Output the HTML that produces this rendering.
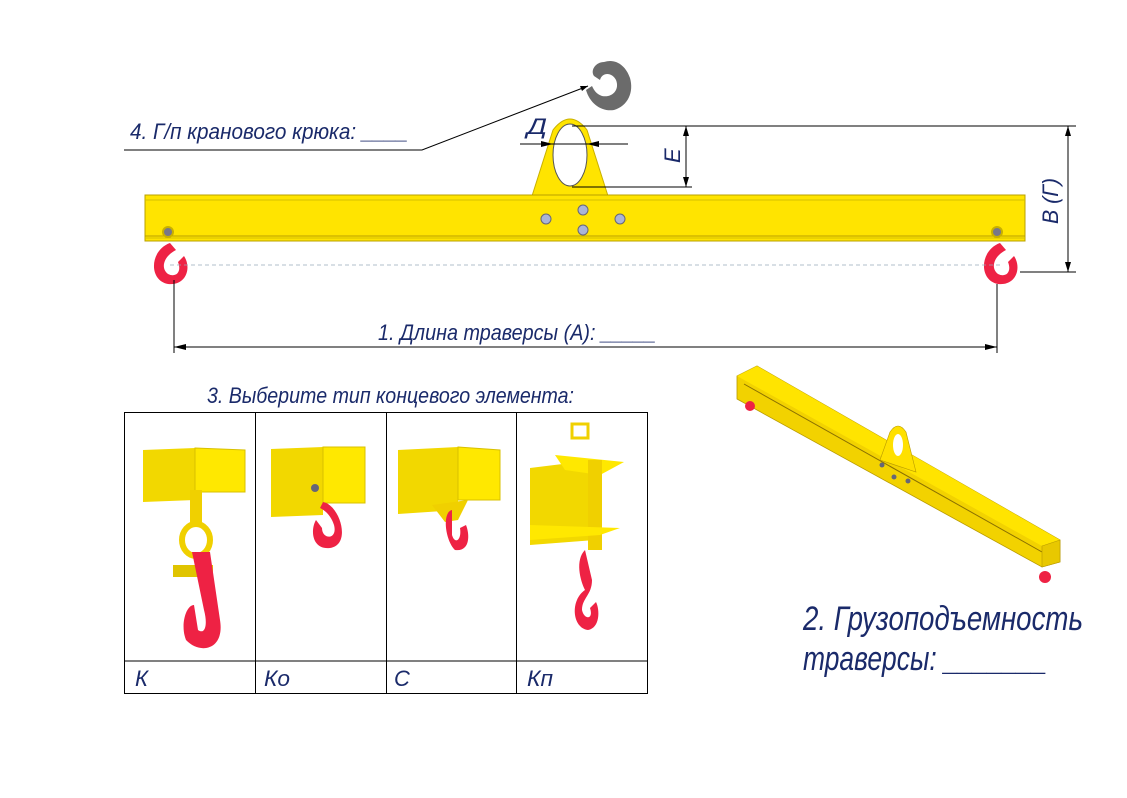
<!DOCTYPE html>
<html><head><meta charset="utf-8"><style>
html,body{margin:0;padding:0;background:#fff;}
svg{display:block}
text{font-family:"Liberation Sans",sans-serif;font-style:italic;fill:#1a2a6a;}
</style></head><body>
<svg width="1127" height="798" viewBox="0 0 1127 798" xmlns="http://www.w3.org/2000/svg">
<!-- crane hook (grey) -->
<path d="M604 62 C596 62 590 70 594 76 L600 80 C602 72 612 72 616 80 C620 90 612 98 602 96 C596 94 594 90 592 86 L586 90 C590 104 602 112 614 110 C628 106 634 92 630 78 C626 66 616 58 604 62 Z" fill="#6b6b6b"/>
<!-- leader line 4 -->
<polyline points="124,150 422,150 588,86" fill="none" stroke="#000" stroke-width="1"/>
<polygon points="588,86 580,86 582,91" fill="#000"/>
<text x="130" y="139" font-size="22" textLength="278" lengthAdjust="spacingAndGlyphs">4. Г/п кранового крюка: ____</text>

<!-- lug -->
<path d="M532 196 L553 130 Q570 108 587 130 L608 196 Z" fill="#ffe400" stroke="#c8b000" stroke-width="1"/>
<ellipse cx="570" cy="155" rx="17" ry="31" fill="#fff" stroke="#555" stroke-width="1"/>
<!-- Д dimension -->
<line x1="520" y1="144" x2="628" y2="144" stroke="#000"/>
<polygon points="553,144 541,141 541,147" fill="#000"/>
<polygon points="587,144 599,141 599,147" fill="#000"/>
<text x="527" y="134" font-size="22" textLength="20" lengthAdjust="spacingAndGlyphs">Д</text>
<!-- E dimension -->
<line x1="572" y1="126" x2="1076" y2="126" stroke="#000"/>
<line x1="572" y1="187" x2="692" y2="187" stroke="#000"/>
<line x1="686" y1="126" x2="686" y2="187" stroke="#000"/>
<polygon points="686,126 683,136 689,136" fill="#000"/>
<polygon points="686,187 683,177 689,177" fill="#000"/>
<text x="0" y="0" font-size="22" transform="translate(680,163) rotate(-90)">Е</text>

<!-- main beam -->
<rect x="145" y="195" width="880" height="46" fill="#ffe400" stroke="#b8a000" stroke-width="1"/>
<line x1="145" y1="200" x2="1025" y2="200" stroke="#d6c000"/>
<line x1="145" y1="236" x2="1025" y2="236" stroke="#b8a000"/>
<line x1="145" y1="238" x2="1025" y2="238" stroke="#d6c000"/>
<circle cx="546" cy="219" r="5" fill="#aab4d6" stroke="#667"/>
<circle cx="583" cy="210" r="5" fill="#aab4d6" stroke="#667"/>
<circle cx="583" cy="230" r="5" fill="#aab4d6" stroke="#667"/>
<circle cx="620" cy="219" r="5" fill="#aab4d6" stroke="#667"/>
<circle cx="168" cy="232" r="5" fill="#778" stroke="#c8b000" stroke-width="2"/>
<circle cx="997" cy="232" r="5" fill="#778" stroke="#c8b000" stroke-width="2"/>
<!-- red hooks -->
<path d="M170 243 C150 250 148 280 168 284 C186 286 192 268 184 256 L178 262 C182 272 176 278 168 274 C160 268 164 256 176 250 Z" fill="#ee2244"/>
<path d="M1000 243 C980 250 978 280 998 284 C1016 286 1022 268 1014 256 L1008 262 C1012 272 1006 278 998 274 C990 268 994 256 1006 250 Z" fill="#ee2244"/>
<line x1="170" y1="265" x2="1000" y2="265" stroke="#9ab" stroke-dasharray="4,3" stroke-width="0.8"/>

<!-- B dimension -->
<line x1="1020" y1="272" x2="1076" y2="272" stroke="#000"/>
<line x1="1068" y1="126" x2="1068" y2="272" stroke="#000"/>
<polygon points="1068,126 1065,136 1071,136" fill="#000"/>
<polygon points="1068,272 1065,262 1071,262" fill="#000"/>
<text x="0" y="0" font-size="22" transform="translate(1058,224) rotate(-90)" textLength="46" lengthAdjust="spacingAndGlyphs">В (Г)</text>

<!-- A dimension -->
<line x1="174" y1="280" x2="174" y2="353" stroke="#000"/>
<line x1="997" y1="284" x2="997" y2="353" stroke="#000"/>
<line x1="174" y1="347" x2="997" y2="347" stroke="#000"/>
<polygon points="174,347 186,344 186,350" fill="#000"/>
<polygon points="997,347 985,344 985,350" fill="#000"/>
<text x="378" y="340" font-size="22" textLength="278" lengthAdjust="spacingAndGlyphs">1. Длина траверсы (А): _____</text>

<!-- section 3 title + table -->
<text x="207" y="403" font-size="22" textLength="367" lengthAdjust="spacingAndGlyphs">3. Выберите тип концевого элемента:</text>
<rect x="124.5" y="412.5" width="523" height="281" fill="none" stroke="#000"/>
<line x1="124" y1="661" x2="648" y2="661" stroke="#000"/>
<line x1="255.5" y1="412" x2="255.5" y2="694" stroke="#000"/>
<line x1="386.5" y1="412" x2="386.5" y2="694" stroke="#000"/>
<line x1="516.5" y1="412" x2="516.5" y2="694" stroke="#000"/>
<text x="135" y="686" font-size="22">К</text>
<text x="264" y="686" font-size="22" textLength="26" lengthAdjust="spacingAndGlyphs">Ко</text>
<text x="394" y="686" font-size="22">С</text>
<text x="527" y="686" font-size="22" textLength="26" lengthAdjust="spacingAndGlyphs">Кп</text>

<!-- K -->
<polygon points="143,450 195,448 195,500 143,502" fill="#f2d800"/>
<polygon points="195,448 245,450 245,492 195,492" fill="#ffe800" stroke="#d8c000"/>
<rect x="190" y="490" width="12" height="35" fill="#f0d000"/>
<ellipse cx="196" cy="540" rx="14" ry="16" fill="none" stroke="#f0d000" stroke-width="6"/>
<rect x="173" y="565" width="40" height="12" fill="#e0c400"/>
<path d="M192 552 L210 552 L220 620 C225 650 200 655 186 640 C180 625 186 605 194 605 L198 630 C205 635 208 625 204 610 Z" fill="#ee2244"/>
<!-- Ko -->
<polygon points="271,449 323,447 323,515 271,517" fill="#f2d800"/>
<polygon points="323,447 365,447 365,503 323,503" fill="#ffe800" stroke="#d8c000"/>
<circle cx="315" cy="488" r="4" fill="#667"/>
<path d="M323 502 C340 505 352 545 330 548 C312 550 310 530 316 520 L322 528 C322 540 338 540 334 525 C330 512 320 508 320 508 Z" fill="#ee2244"/>
<!-- C -->
<polygon points="398,450 458,447 458,510 398,514" fill="#f2d800"/>
<polygon points="458,447 500,450 500,500 458,500" fill="#ffe800" stroke="#d8c000"/>
<polygon points="432,505 468,500 458,520 445,522" fill="#f0d000"/>
<path d="M452 510 C442 512 445 540 455 550 C470 552 470 535 466 525 L460 528 C462 540 455 545 452 535 Z" fill="#ee2244"/>
<!-- Kp -->
<rect x="572" y="424" width="16" height="14" fill="none" stroke="#f0d000" stroke-width="3"/>
<polygon points="530,468 595,460 595,540 530,545" fill="#f2d800"/>
<polygon points="555,455 624,462 600,475 565,470" fill="#ffe800"/>
<rect x="588" y="460" width="14" height="90" fill="#f0d000"/>
<polygon points="530,525 620,528 600,535 530,540" fill="#ffe800"/>
<path d="M585 550 C575 560 580 580 585 590 C570 600 572 628 588 630 C600 628 600 610 596 602 L590 608 C594 620 584 620 582 610 C582 598 592 595 592 580 Z" fill="#ee2244"/>

<!-- isometric beam -->
<polygon points="737,376 757,366 1060,540 1060,562 1042,567 737,399" fill="#f2d200" stroke="#b89a00" stroke-width="0.8"/>
<polygon points="737,376 757,366 1060,540 1042,546" fill="#ffe400"/>
<line x1="744" y1="384" x2="1042" y2="552" stroke="#8a7000" stroke-width="1"/>
<polygon points="1042,546 1060,540 1060,562 1042,567" fill="#e8c800" stroke="#b89a00" stroke-width="0.6"/>
<path d="M880 460 L890 432 Q898 420 906 432 L916 472 Z" fill="#ffe000" stroke="#b89a00" stroke-width="0.6"/>
<ellipse cx="898" cy="445" rx="5" ry="11" fill="#fff"/>
<circle cx="882" cy="465" r="2.5" fill="#667"/>
<circle cx="894" cy="477" r="2.5" fill="#667"/>
<circle cx="908" cy="481" r="2.5" fill="#667"/>
<circle cx="750" cy="406" r="5" fill="#ee2244"/>
<circle cx="1045" cy="577" r="6" fill="#ee2244"/>
<text x="803" y="630" font-size="34" textLength="280" lengthAdjust="spacingAndGlyphs">2. Грузоподъемность</text>
<text x="803" y="670" font-size="34" textLength="244" lengthAdjust="spacingAndGlyphs">траверсы: _______</text>
</svg>
</body></html>
